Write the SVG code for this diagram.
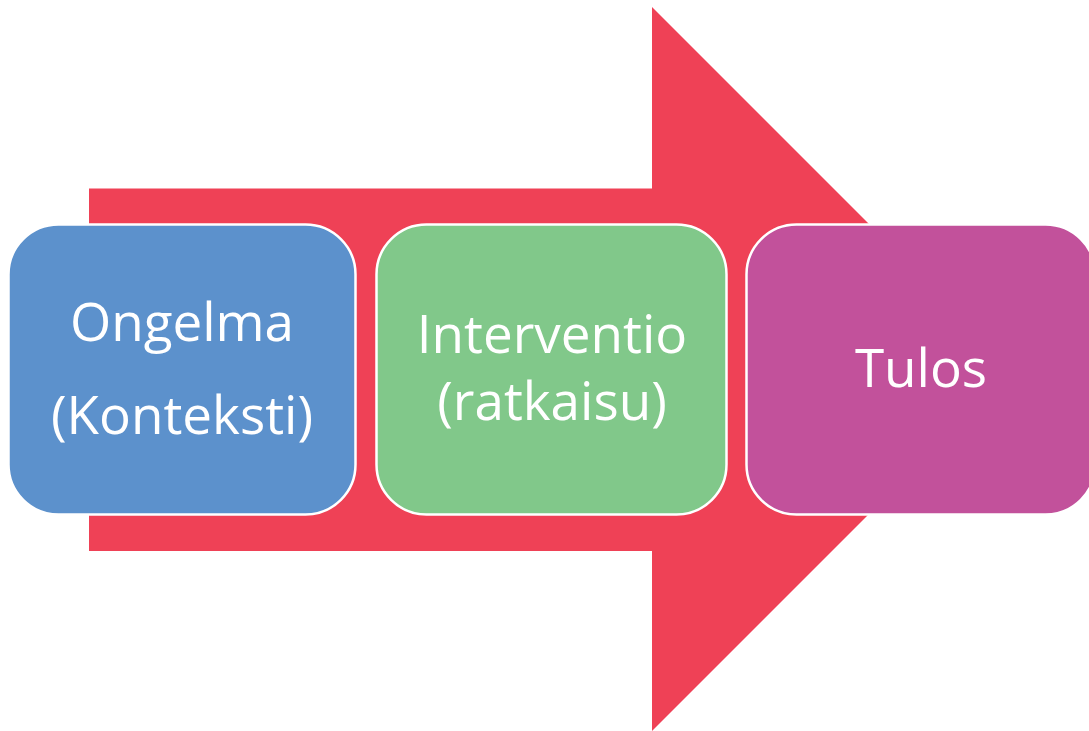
<svg xmlns="http://www.w3.org/2000/svg" width="1089" height="731" viewBox="0 0 1089 731">
<style>
.box{stroke:#ffffff;stroke-width:2.5}
.lbl{font-family:"Open Sans","Noto Sans","Liberation Sans",sans-serif;font-size:53px;fill:#ffffff;text-anchor:middle}
</style>
<rect width="1089" height="731" fill="#ffffff"/>
<g id="arrow">
<polygon points="89,188.5 652,188.5 652,7 1014,369 652,731 652,551 89,551" fill="#EF4156"/>
</g>
<g id="node-ongelma">
<rect class="box" x="8.5" y="224.5" width="347" height="290" rx="50" ry="50" fill="#5C91CC"/>
<text class="lbl" x="182" y="341">Ongelma</text>
<text class="lbl" x="182" y="434">(Konteksti)</text>
</g>
<g id="node-interventio">
<rect class="box" x="376.5" y="224.5" width="350" height="290" rx="50" ry="50" fill="#81C88A"/>
<text class="lbl" x="552" y="353">Interventio</text>
<text class="lbl" x="552" y="420">(ratkaisu)</text>
</g>
<g id="node-tulos">
<rect class="box" x="746.5" y="224.5" width="349" height="290" rx="50" ry="50" fill="#C2519B"/>
<text class="lbl" x="921" y="387">Tulos</text>
</g>
<g id="connectors"></g>
</svg>
